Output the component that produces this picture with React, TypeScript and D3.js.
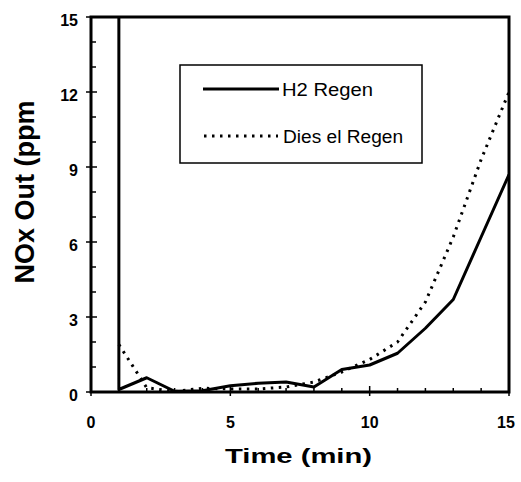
import React from "react";
import * as d3 from "d3";

const h2Time = [1, 1, 2, 3, 4, 5, 6, 7, 8, 9, 10, 11, 12, 13, 14, 15];
const h2Values = [15, 0.1, 0.57, 0.03, 0.05, 0.25, 0.35, 0.4, 0.2, 0.9, 1.08, 1.55, 2.55, 3.7, 6.2, 8.7];
const dieselTime = [1, 2, 3, 4, 5, 6, 7, 8, 9, 10, 11, 12, 13, 14, 15];
const dieselValues = [1.9, 0.17, 0.02, 0.15, 0.12, 0.12, 0.2, 0.4, 0.8, 1.3, 2.0, 3.6, 6.2, 9.3, 12.0];
const yTicks = [0, 3, 6, 9, 12, 15];
const xTicks = [0, 5, 10, 15];
const seriesNames = ["H2 Regen", "Dies el Regen"];

const W = 521;
const H = 482;
const left = 91, right = 509, top = 17, bottom = 392;

export default function App() {
  const x = d3.scaleLinear().domain([0, 15]).range([left, right]);
  const y = d3.scaleLinear().domain([0, 15]).range([bottom, top]);
  const line = d3
    .line<[number, number]>()
    .x((d) => x(d[0]))
    .y((d) => y(d[1]));
  const h2Pts = h2Time.map((t, i) => [t, h2Values[i]] as [number, number]);
  const dPts = dieselTime.map((t, i) => [t, dieselValues[i]] as [number, number]);
  const minorY = d3.range(0, 16, 1).filter((v) => v % 3 !== 0);
  const minorX = d3.range(0, 16, 1).filter((v) => v % 5 !== 0);
  const font = "Arial, 'Liberation Sans', sans-serif";

  return (
    <svg
      width={W}
      height={H}
      style={{ position: "absolute", left: 0, top: 0, background: "#fff" }}
      fontFamily={font}
    >
      <rect x={0} y={0} width={W} height={H} fill="#fff" />
      <defs>
        <clipPath id="plot">
          <rect x={left} y={top} width={right - left} height={bottom - top} />
        </clipPath>
      </defs>
      {minorY.map((v) => (
        <line key={"my" + v} x1={left} x2={left + 5} y1={y(v)} y2={y(v)} stroke="#000" strokeWidth={1.5} />
      ))}
      {yTicks.map((v) => (
        <g key={"yt" + v}>
          <line x1={left - 5} x2={left + 6} y1={y(v)} y2={y(v)} stroke="#000" strokeWidth={1.5} />
          <text x={78} y={y(v) + 8.5} textAnchor="end" fontSize={16} fontWeight="bold">
            {v}
          </text>
        </g>
      ))}
      {minorX.map((v) => (
        <line key={"mx" + v} x1={x(v)} x2={x(v)} y1={bottom} y2={bottom - 4} stroke="#000" strokeWidth={1.5} />
      ))}
      {xTicks.map((v) => (
        <g key={"xt" + v}>
          <line x1={x(v)} x2={x(v)} y1={bottom + 4} y2={bottom - 6} stroke="#000" strokeWidth={1.5} />
          <text x={x(v) - (v === 15 ? 3 : 0)} y={428} textAnchor="middle" fontSize={16} fontWeight="bold">
            {v}
          </text>
        </g>
      ))}
      <g clipPath="url(#plot)">
        <path d={line(dPts) || ""} fill="none" stroke="#000" strokeWidth={3} strokeDasharray="2.5,5.5" />
        <path d={line(h2Pts) || ""} fill="none" stroke="#000" strokeWidth={3} strokeLinejoin="round" />
      </g>
      <rect x={left} y={top} width={right - left} height={bottom - top} fill="none" stroke="#000" strokeWidth={3} />
      <rect x={180} y={65} width={242} height={98} fill="#fff" stroke="#000" strokeWidth={1.5} />
      <line x1={203} x2={279} y1={89} y2={89} stroke="#000" strokeWidth={3} />
      <text x={282} y={95.5} fontSize={18} textLength={91} lengthAdjust="spacingAndGlyphs">
        {seriesNames[0]}
      </text>
      <line x1={204} x2={278} y1={136} y2={136} stroke="#000" strokeWidth={3} strokeDasharray="2.5,5.5" />
      <text x={283} y={142.5} fontSize={18} textLength={120} lengthAdjust="spacingAndGlyphs">
        {seriesNames[1]}
      </text>
      <text x={225} y={463} fontSize={21} fontWeight="bold" textLength={147} lengthAdjust="spacingAndGlyphs">
        Time (min)
      </text>
      <text
        transform={`translate(34,${192}) rotate(-90)`}
        textAnchor="middle"
        fontSize={27}
        fontWeight="bold"
      >
        NOx Out (ppm
      </text>
    </svg>
  );
}
